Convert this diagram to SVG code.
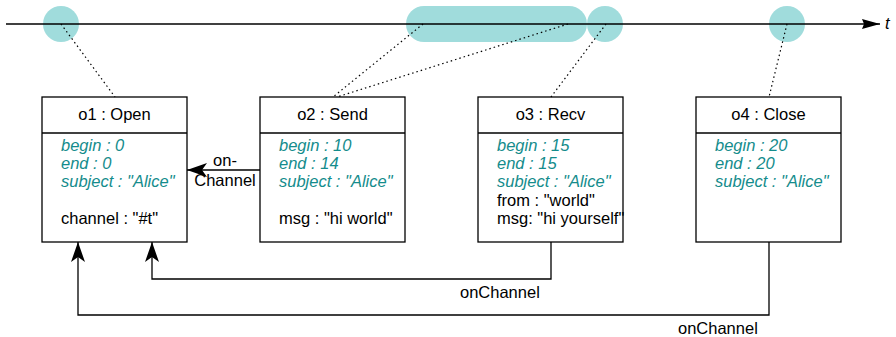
<svg xmlns="http://www.w3.org/2000/svg" width="896" height="337" viewBox="0 0 896 337">
<style>
text{font-family:"Liberation Sans",Arial,sans-serif;font-size:16.5px;fill:#000}
.h{text-anchor:middle}
.a{fill:#148c8c;font-style:italic}
.box{fill:#fff;stroke:#000;stroke-width:1.3}
.ev{fill:#a0dcdc}
.dot{stroke:#000;stroke-width:1.2;stroke-dasharray:1.5 3;fill:none}
.conn{stroke:#000;stroke-width:1.3;fill:none}
</style>
<defs>
<marker id="arr" viewBox="0 0 20 14" refX="20" refY="7" markerWidth="20" markerHeight="14" markerUnits="userSpaceOnUse" orient="auto">
<path d="M0,0 L20,7 L0,14 L5,7 Z" fill="#000"/>
</marker>
<marker id="tarr" viewBox="0 0 18 10" refX="18" refY="5" markerWidth="18" markerHeight="10" markerUnits="userSpaceOnUse" orient="auto">
<path d="M0,0 L18,5 L0,10 L2,5 Z" fill="#000"/>
</marker>
</defs>
<g id="events">
<circle class="ev" cx="61" cy="24" r="18"/>
<rect class="ev" x="406" y="6" width="181" height="36" rx="18" ry="18"/>
<circle class="ev" cx="605" cy="24" r="18"/>
<circle class="ev" cx="787" cy="24" r="18"/>
</g>
<g id="timeline">
<line class="conn" x1="6" y1="24" x2="880" y2="24" marker-end="url(#tarr)"/>
<text x="885" y="29" style="font-style:italic">t</text>
</g>
<g id="o1">
<rect class="box" x="42" y="97" width="145" height="145"/>
<line class="box" x1="42" y1="133" x2="187" y2="133"/>
<text class="h" x="114.5" y="120">o1 : Open</text>
<text class="a" x="61" y="151">begin : 0</text>
<text class="a" x="61" y="169">end : 0</text>
<text class="a" x="61" y="187">subject : "Alice"</text>
<text x="61" y="224">channel : "#t"</text>
</g>
<g id="o2">
<rect class="box" x="260" y="97" width="145" height="145"/>
<line class="box" x1="260" y1="133" x2="405" y2="133"/>
<text class="h" x="332.5" y="120">o2 : Send</text>
<text class="a" x="279" y="151">begin : 10</text>
<text class="a" x="279" y="169">end : 14</text>
<text class="a" x="279" y="187">subject : "Alice"</text>
<text x="279" y="224">msg : "hi world"</text>
</g>
<g id="o3">
<rect class="box" x="478" y="97" width="145" height="145"/>
<line class="box" x1="478" y1="133" x2="623" y2="133"/>
<text class="h" x="550.5" y="120">o3 : Recv</text>
<text class="a" x="497" y="151">begin : 15</text>
<text class="a" x="497" y="169">end : 15</text>
<text class="a" x="497" y="187">subject : "Alice"</text>
<text x="497" y="206">from : "world"</text>
<text x="497" y="224">msg: "hi yourself"</text>
</g>
<g id="o4">
<rect class="box" x="696" y="97" width="145" height="145"/>
<line class="box" x1="696" y1="133" x2="841" y2="133"/>
<text class="h" x="768.5" y="120">o4 : Close</text>
<text class="a" x="715" y="151">begin : 20</text>
<text class="a" x="715" y="169">end : 20</text>
<text class="a" x="715" y="187">subject : "Alice"</text>
</g>
<g id="connectors">
<line class="dot" x1="61" y1="24" x2="115" y2="97"/>
<line class="dot" x1="423" y1="24" x2="333" y2="97"/>
<line class="dot" x1="568" y1="24" x2="337" y2="97"/>
<line class="dot" x1="606" y1="24" x2="551" y2="97"/>
<line class="dot" x1="787" y1="24" x2="769" y2="97"/>
<line class="conn" x1="260" y1="170" x2="187" y2="170" marker-end="url(#arr)"/>
<text class="h" x="225" y="166">on-</text>
<text class="h" x="225" y="186">Channel</text>
<polyline class="conn" points="551,242 551,279 152,279 152,242" marker-end="url(#arr)"/>
<text x="460" y="298">onChannel</text>
<polyline class="conn" points="769,242 769,315 78,315 78,242" marker-end="url(#arr)"/>
<text x="678" y="334">onChannel</text>
</g>
</svg>
